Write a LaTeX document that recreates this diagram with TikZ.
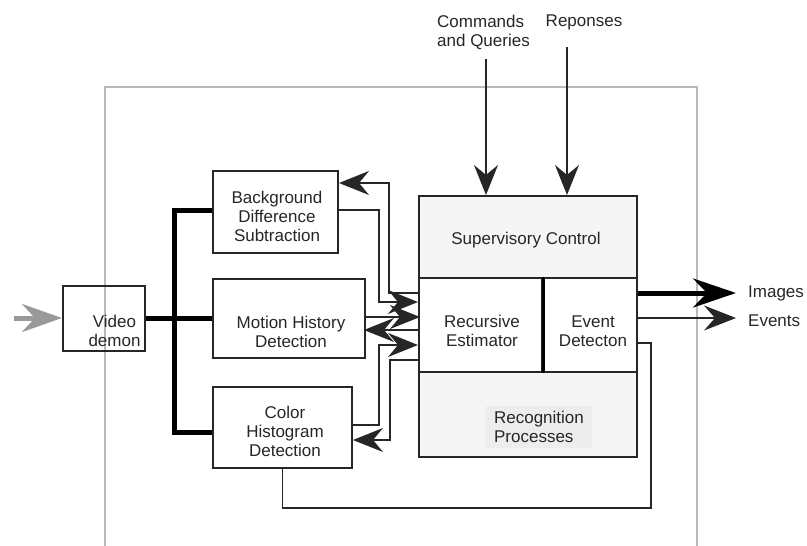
\documentclass[tikz,border=0pt]{standalone}
\usepackage{fontspec}
\setmainfont{Liberation Sans}
\usetikzlibrary{arrows.meta}

\begin{document}
\begin{tikzpicture}[
    x=1pt, y=-1pt,
    font=\fontsize{17}{19}\selectfont,
    box/.style={rectangle, draw=black!85, line width=2pt, align=center, inner sep=0pt},
    shaded/.style={box, fill=gray!8},
    lbl/.style={align=center, inner sep=0pt, text=black!85},
    wire/.style={line width=1.6pt, draw=black!85},
    arrow/.style={wire, -{Stealth[length=30pt, width=24pt, inset=10pt]}},
    bus/.style={line width=5pt, draw=black},
    bigarrow/.style={line width=5pt, draw=black, -{Stealth[length=43pt, width=29pt, inset=14pt]}},
    outarrow/.style={wire, -{Stealth[length=32pt, width=25pt, inset=11pt]}},
    inarrow/.style={line width=5pt, draw=gray!80, -{Stealth[length=40pt, width=28pt, inset=13pt]}},
    frame/.style={line width=1.5pt, draw=gray!55}
]
\useasboundingbox (0,0) rectangle (807,546);

% Surrounding frame
\draw[frame] (105,546) |- (697,87) -- (697,546);

% Input and feature boxes
\node[box, minimum width=82pt, minimum height=65pt] (video) at (104,318) {};
\node[lbl] (videotxt) at (114.5,331) {Video\\demon};
\node[box, minimum width=125pt, minimum height=82pt] (bds) at (275.5,212) {};
\node[lbl] (bdstxt) at (277,216) {Background\\Difference\\Subtraction};
\node[box, minimum width=152pt, minimum height=79pt] (mhd) at (289,318) {};
\node[lbl] (mhdtxt) at (291,331.5) {Motion History\\Detection};
\node[box, minimum width=139pt, minimum height=81pt] (chd) at (282.5,427.5) {};
\node[lbl] (chdtxt) at (285,431) {Color\\Histogram\\Detection};

% Control block
\node[shaded, minimum width=218pt, minimum height=82pt] (sup) at (528,237) {};
\node[lbl] (suptxt) at (526,240) {Supervisory Control};
\node[box, minimum width=123pt, minimum height=94pt] (re) at (480.5,325) {};
\node[lbl] (retxt) at (482,331) {Recursive\\Estimator};
\node[box, minimum width=95pt, minimum height=94pt] (ed) at (589.5,325) {};
\node[lbl] (edtxt) at (593,331) {Event\\Detecton};
\node[shaded, minimum width=218pt, minimum height=85pt] (rp) at (528,414.5) {};
\node[lbl, align=left, fill=gray!14, minimum width=106pt, minimum height=42pt] (rptxt) at (539,427) {Recognition\\Processes};
\draw[line width=3pt, draw=black] (re.north east) -- (re.south east);

% Outside labels
\node[lbl, align=left, anchor=west] (cmd) at (437,32) {Commands\\and Queries};
\node[lbl] (resp) at (584,22) {Reponses};
\node[lbl, anchor=west] (imgtxt) at (748,293) {Images};
\node[lbl, anchor=west] (evtxt) at (748,321) {Events};

% Video bus
\draw[inarrow] ([xshift=-48]video.west) -- (video.west);
\draw[bus] (video.east) -- (mhd.west);
\draw[bus] ([yshift=2]bds.west) -- ++(-38,0) |- ([yshift=-4.5]chd.west);

% Links to the estimator
\draw[arrow] ([yshift=32]re.west) -- ++(-29,0) |- ([yshift=29]bds.east);
\draw[arrow] ([yshift=2]bds.east) -- ++(40,0) |- ([yshift=23]re.west);
\draw[arrow] ([yshift=1]mhd.east) -- ++(54,0);
\draw[arrow] ([yshift=-5]re.west) -- ++(-54,0);
\draw[arrow] ([yshift=2.5]chd.east) -- ++(26,0) |- ([yshift=-20]re.west);
\draw[arrow] ([yshift=-35]re.west) -- ++(-28,0) |- ([yshift=-12.5]chd.east);

% Commands and outputs
\draw[arrow] ([xshift=-42,yshift=136]sup.north) -- ([xshift=-42]sup.north);
\draw[arrow] ([xshift=39,yshift=148]sup.north) -- ([xshift=39]sup.north);
\draw[bigarrow] ([yshift=32]ed.east) -- ++(98,0);
\draw[outarrow] ([yshift=7]ed.east) -- ++(98,0);
\draw[wire] ([yshift=-18]ed.east) -- ++(13,0) -- ++(0,165) -| (chd.south);

\end{tikzpicture}
\end{document}
